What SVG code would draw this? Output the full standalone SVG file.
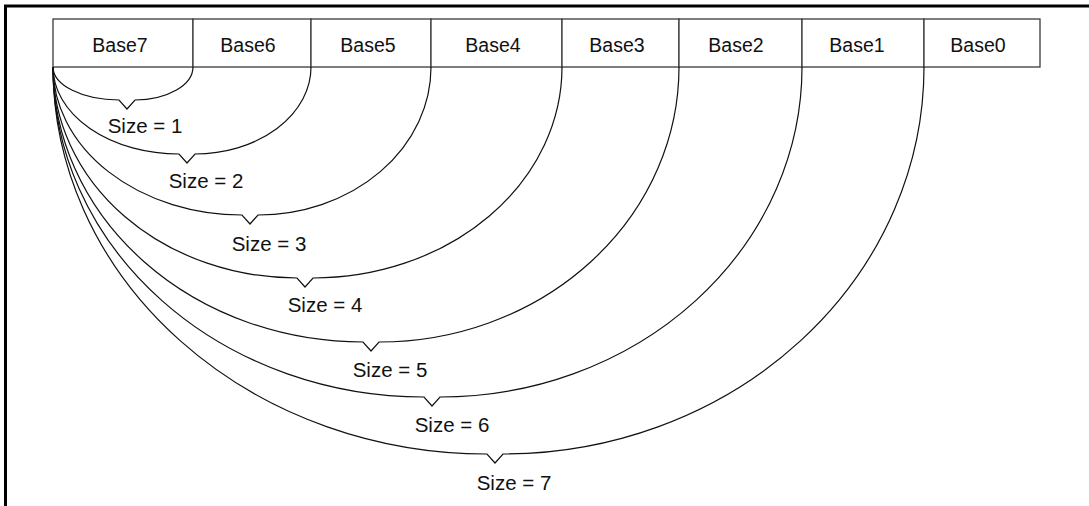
<svg xmlns="http://www.w3.org/2000/svg" width="1089" height="506" viewBox="0 0 1089 506">
<style>
.frame{fill:none;stroke:#000;stroke-width:3}
.cell{fill:#fff;stroke:#3a3a3a;stroke-width:1.3}
.lbl{font-family:"Liberation Sans",Arial,sans-serif;font-size:19.5px;fill:#111;text-anchor:middle}
.sz{font-family:"Liberation Sans",Arial,sans-serif;font-size:20.5px;fill:#111;text-anchor:middle}
.brace{fill:none;stroke:#111;stroke-width:1.2}
</style>
<rect width="1089" height="506" fill="#fff"/>
<path class="frame" d="M5.5,506 V6 H1089"/>
<g id="row">
<g id="base7"><rect class="cell" x="53" y="19" width="140" height="48"/><text class="lbl" x="120" y="52">Base7</text></g>
<g id="base6"><rect class="cell" x="193" y="19" width="118" height="48"/><text class="lbl" x="248" y="52">Base6</text></g>
<g id="base5"><rect class="cell" x="311" y="19" width="120" height="48"/><text class="lbl" x="368" y="52">Base5</text></g>
<g id="base4"><rect class="cell" x="431" y="19" width="131" height="48"/><text class="lbl" x="493" y="52">Base4</text></g>
<g id="base3"><rect class="cell" x="562" y="19" width="117" height="48"/><text class="lbl" x="617" y="52">Base3</text></g>
<g id="base2"><rect class="cell" x="679" y="19" width="123" height="48"/><text class="lbl" x="736" y="52">Base2</text></g>
<g id="base1"><rect class="cell" x="802" y="19" width="122" height="48"/><text class="lbl" x="857" y="52">Base1</text></g>
<g id="base0"><rect class="cell" x="924" y="19" width="116" height="48"/><text class="lbl" x="978" y="52">Base0</text></g>
</g>
<g id="connectors">
<path class="brace" d="M53,67 A66,33 0 0 0 119,100 L127,109 L135,100 A58,33 0 0 0 193,67"/>
<path class="brace" d="M53,67 A126,87 0 0 0 179,154 L187,163 L195,154 A116,87 0 0 0 311,67"/>
<path class="brace" d="M53,67 A189,148 0 0 0 242,215 L250,224 L258,215 A173,148 0 0 0 431,67"/>
<path class="brace" d="M53,67 A244,211 0 0 0 297,278 L305,287 L313,278 A249,211 0 0 0 562,67"/>
<path class="brace" d="M53,67 A310,275 0 0 0 363,342 L371,351 L379,342 A300,275 0 0 0 679,67"/>
<path class="brace" d="M53,67 A371,330 0 0 0 424,397 L432,406 L440,397 A362,330 0 0 0 802,67"/>
<path class="brace" d="M53,67 A434,387 0 0 0 487,454 L495,463 L503,454 A421,387 0 0 0 924,67"/>
</g>
<g id="labels">
<text class="sz" x="145" y="133">Size = 1</text>
<text class="sz" x="206" y="188">Size = 2</text>
<text class="sz" x="269" y="251">Size = 3</text>
<text class="sz" x="325" y="312">Size = 4</text>
<text class="sz" x="390" y="377">Size = 5</text>
<text class="sz" x="452" y="432">Size = 6</text>
<text class="sz" x="514" y="490">Size = 7</text>
</g>
</svg>
